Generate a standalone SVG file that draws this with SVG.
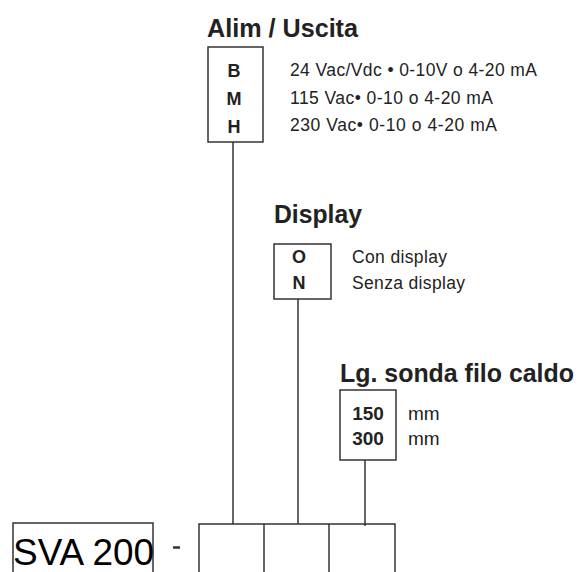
<svg xmlns="http://www.w3.org/2000/svg" width="581" height="572" viewBox="0 0 581 572">
<style>
.box{fill:none;stroke:#333;stroke-width:1.5}
.ln{stroke:#333;stroke-width:1.5;fill:none}
.t{font-family:"Liberation Sans",Arial,sans-serif;fill:#222}
.h{font-size:26px;font-weight:bold}
.k{font-size:18px;font-weight:bold;text-anchor:middle}
.d{font-size:17.5px}
</style>
<rect width="581" height="572" fill="#fff"/>
<g id="alim">
<text class="t h" x="207" y="37" textLength="151" lengthAdjust="spacingAndGlyphs">Alim / Uscita</text>
<rect class="box" x="208" y="47" width="55" height="95"/>
<text class="t k" x="234" y="77">B</text>
<text class="t k" x="234" y="105">M</text>
<text class="t k" x="234" y="133">H</text>
<text class="t d" x="290" y="76" textLength="247" lengthAdjust="spacing">24 Vac/Vdc • 0-10V o 4-20 mA</text>
<text class="t d" x="290" y="104" textLength="203" lengthAdjust="spacing">115 Vac• 0-10 o 4-20 mA</text>
<text class="t d" x="290" y="131" textLength="207" lengthAdjust="spacing">230 Vac• 0-10 o 4-20 mA</text>
</g>
<g id="display">
<text class="t h" x="274" y="223" textLength="88" lengthAdjust="spacingAndGlyphs">Display</text>
<rect class="box" x="274" y="244" width="57" height="55"/>
<text class="t k" x="299" y="263">O</text>
<text class="t k" x="299" y="289">N</text>
<text class="t d" x="352" y="263" textLength="95" lengthAdjust="spacing">Con display</text>
<text class="t d" x="352" y="289" textLength="113" lengthAdjust="spacing">Senza display</text>
</g>
<g id="sonda">
<text class="t h" x="340" y="382" style="font-size:25px" textLength="234" lengthAdjust="spacingAndGlyphs">Lg. sonda filo caldo</text>
<rect class="box" x="340" y="390" width="56" height="70"/>
<text class="t k" x="368" y="420" style="font-size:19px">150</text>
<text class="t k" x="368" y="445" style="font-size:19px">300</text>
<text class="t" x="408" y="420" style="font-size:19px">mm</text>
<text class="t" x="408" y="445" style="font-size:19px">mm</text>
</g>
<g id="code">
<rect class="box" x="13" y="523" width="140" height="60"/>
<text class="t" x="13" y="565" style="font-size:37px;fill:#000" textLength="141" lengthAdjust="spacingAndGlyphs">SVA 200</text>
<line class="ln" x1="173" y1="547.5" x2="180" y2="547.5" style="stroke-width:2.5"/>
<rect class="box" x="199" y="524" width="196" height="60"/>
<line class="ln" x1="264" y1="524" x2="264" y2="572"/>
<line class="ln" x1="329" y1="524" x2="329" y2="572"/>
</g>
<g id="connectors">
<line class="ln" x1="233" y1="142" x2="233" y2="524"/>
<line class="ln" x1="298" y1="299" x2="298" y2="524"/>
<line class="ln" x1="365" y1="460" x2="365" y2="526"/>
</g>
</svg>
